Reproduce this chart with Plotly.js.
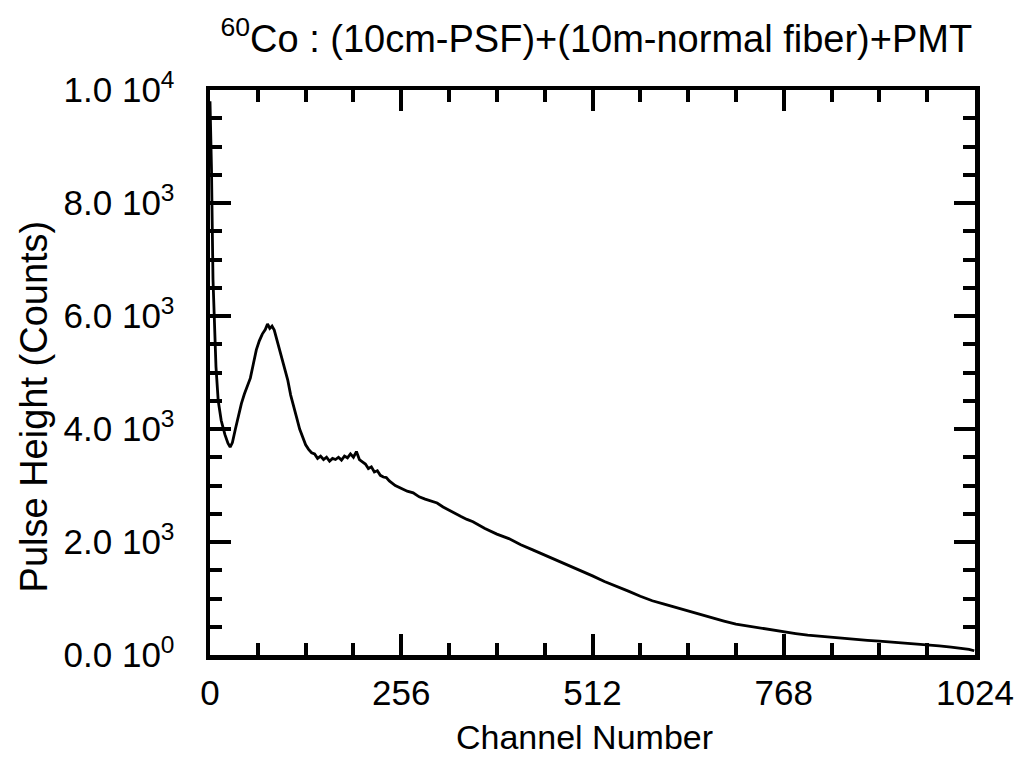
<!DOCTYPE html>
<html>
<head>
<meta charset="utf-8">
<script src="https://cdn.plot.ly/plotly-3.0.1.min.js"></script>
<style>html,body{margin:0;padding:0;background:#fff;}#chart{width:1023px;height:766px;}</style>
</head>
<body>
<div id="chart"></div>
<script>
const channels = [0,2,4,6,8,11,15,20,24,27,30,34,38,42,46,50,54,58,62,66,70,74,77,80,83,86,89,92,96,100,104,108,112,116,120,124,128,132,136,140,144,148,152,156,160,164,168,172,176,180,184,188,192,196,200,204,208,212,216,220,224,228,232,236,240,248,256,264,272,280,288,296,304,312,320,328,336,344,352,368,384,400,416,432,448,464,480,496,512,528,544,560,576,592,608,624,640,656,672,688,704,720,736,752,768,784,800,816,832,848,864,880,896,912,928,944,960,976,992,1008,1016,1023];
const counts = [9800,8600,6650,5800,5100,4500,4150,3900,3750,3680,3760,4000,4250,4450,4620,4780,4900,5150,5400,5560,5680,5760,5860,5780,5820,5750,5600,5450,5250,5050,4870,4600,4380,4200,4000,3860,3720,3640,3580,3560,3480,3520,3460,3500,3430,3480,3460,3500,3450,3520,3490,3560,3500,3600,3460,3420,3380,3300,3330,3240,3260,3180,3150,3140,3080,3000,2950,2900,2870,2800,2760,2720,2690,2620,2560,2500,2450,2400,2360,2240,2140,2060,1950,1860,1770,1680,1580,1500,1400,1300,1220,1130,1040,960,900,840,770,710,660,600,545,510,475,445,410,380,350,330,310,290,270,260,245,230,210,195,175,160,140,115,100,75];
const xTickVals = [0,256,512,768,1024];
const xTickText = ['0','256','512','768','1024'];
const yTickVals = [0,2000,4000,6000,8000,10000];
const yTickText = ['0.0 10<sup>0</sup>','2.0 10<sup>3</sup>','4.0 10<sup>3</sup>','6.0 10<sup>3</sup>','8.0 10<sup>3</sup>','1.0 10<sup>4</sup>'];
const titleText = '<sup>60</sup>Co : (10cm-PSF)+(10m-normal fiber)+PMT';
const xTitle = 'Channel Number';
const yTitle = 'Pulse Height (Counts)';

const FONT = '"Liberation Sans", Arial, Helvetica, sans-serif';

const trace = {
  x: channels, y: counts, type: 'scatter', mode: 'lines',
  line: {color: '#000', width: 2.8}, hoverinfo: 'skip'
};

const layout = {
  width: 1023, height: 766,
  margin: {l: 210, r: 48, t: 90, b: 111},
  paper_bgcolor: '#fff', plot_bgcolor: '#fff',
  showlegend: false,
  font: {family: FONT, color: '#000', size: 35},
  title: {text: titleText, font: {family: FONT, size: 38, color: '#000'},
          xref: 'paper', x: 0.505, xanchor: 'center', yref: 'container', y: 0.95, yanchor: 'middle'},
  xaxis: {
    range: [0, 1024], showgrid: false, zeroline: false,
    showline: true, linewidth: 4.5, linecolor: '#000', mirror: 'ticks',
    ticks: 'inside', ticklen: 21, tickwidth: 4, tickcolor: '#000',
    tickvals: xTickVals, ticktext: xTickText,
    tickfont: {family: FONT, size: 35, color: '#000'},
    ticklabelstandoff: 3,
    minor: {dtick: 64, tick0: 0, ticks: 'inside', ticklen: 12, tickwidth: 4, tickcolor: '#000', showgrid: false}
  },
  yaxis: {
    range: [0, 10000], showgrid: false, zeroline: false,
    showline: true, linewidth: 4.5, linecolor: '#000', mirror: 'ticks',
    ticks: 'inside', ticklen: 21, tickwidth: 4, tickcolor: '#000',
    tickvals: yTickVals, ticktext: yTickText,
    tickfont: {family: FONT, size: 35, color: '#000'},
    ticklabelstandoff: 24,
    minor: {dtick: 500, tick0: 0, ticks: 'inside', ticklen: 12, tickwidth: 4, tickcolor: '#000', showgrid: false}
  },
  annotations: [
    {text: xTitle, xref: 'paper', yref: 'paper', x: 0.49, y: -0.145, xanchor: 'center', yanchor: 'middle',
     showarrow: false, font: {family: FONT, size: 34, color: '#000'}},
    {text: yTitle, xref: 'paper', yref: 'paper', x: -0.23, y: 0.44, xanchor: 'center', yanchor: 'middle',
     textangle: -90, showarrow: false, font: {family: FONT, size: 38, color: '#000'}}
  ]
};

Plotly.newPlot('chart', [trace], layout, {staticPlot: true, displayModeBar: false});
</script>
</body>
</html>
